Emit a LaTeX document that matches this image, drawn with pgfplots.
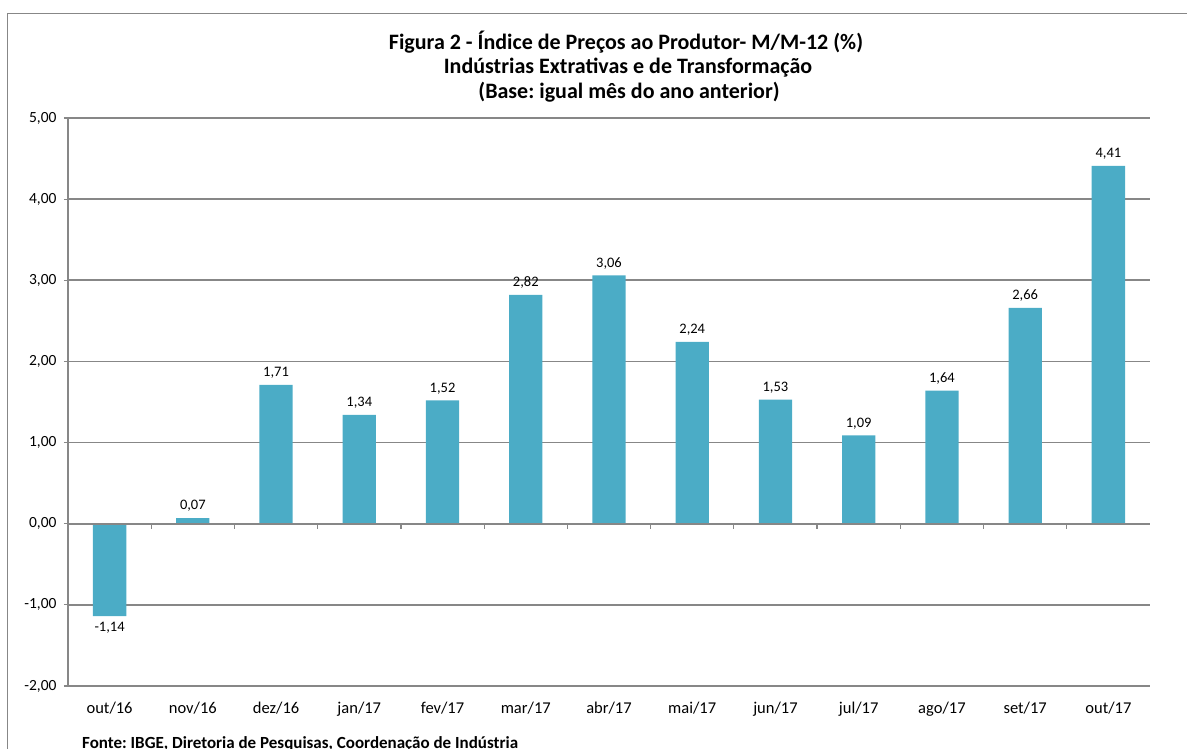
\documentclass[border=0pt]{standalone}
\usepackage{pgfplots}
\pgfplotsset{compat=1.18}
\usepackage{fontspec}
\setmainfont{Carlito}
\frenchspacing
\definecolor{barc}{HTML}{4BACC6}
\definecolor{gridc}{HTML}{878787}
\begin{document}
\begin{tikzpicture}[x=1pt,y=1pt]
\useasboundingbox (0,0) rectangle (1187,749);
\draw[gridc, line width=1.2pt] (7.5,0) -- (7.5,735.5) -- (1187,735.5);
\node[anchor=base, font=\bfseries\fontsize{22}{26}\selectfont] at (626,699) {Figura 2 - Índice de Preços ao Produtor- M/M-12 (\%)};
\node[anchor=base, font=\bfseries\fontsize{22}{26}\selectfont] at (628,675) {Indústrias Extrativas e de Transformação};
\node[anchor=base, font=\bfseries\fontsize{22}{26}\selectfont] at (629,650) {(Base: igual mês do ano anterior)};
\node[anchor=base west, inner sep=0pt, font=\bfseries\fontsize{17}{20}\selectfont] at (82,0.5) {Fonte: IBGE, Diretoria de Pesquisas, Coordenação de Indústria};
\begin{axis}[
  at={(68pt,63pt)}, anchor=south west,
  width=1082pt, height=568pt, scale only axis,
  xmin=-0.5, xmax=12.5, ymin=-2, ymax=5,
  ybar, bar width=0.4,
  axis y line*=left, axis x line*=bottom,
  x axis line style={draw=none},
  y axis line style={-, gridc, line width=1.6pt},
  xtick={0,...,12},
  xticklabels={out/16,nov/16,dez/16,jan/17,fev/17,mar/17,abr/17,mai/17,jun/17,jul/17,ago/17,set/17,out/17},
  x tick style={draw=none},
  xticklabel style={font=\fontsize{16.5}{19}\selectfont, yshift=-9pt},
  ytick={-2,...,5},
  y tick style={gridc, line width=1.2pt},
  tick align=outside, major tick length=4pt,
  yticklabel style={font=\fontsize{15.5}{18}\selectfont, xshift=-4pt},
  ymajorgrids, grid style={gridc, line width=1.8pt},
  /pgf/number format/use comma,
  /pgf/number format/fixed,
  /pgf/number format/fixed zerofill,
  /pgf/number format/precision=2,
  /pgf/number format/assume math mode=true,
  nodes near coords,
  nodes near coords style={font=\fontsize{14.5}{17}\selectfont, inner sep=6pt},
]
\addplot[fill=barc, draw=none] coordinates {
(0,-1.14) (1,0.07) (2,1.71) (3,1.34) (4,1.52) (5,2.82) (6,3.06)
(7,2.24) (8,1.53) (9,1.09) (10,1.64) (11,2.66) (12,4.41)};
\end{axis}
\begin{axis}[
  at={(68pt,63pt)}, anchor=south west,
  width=1082pt, height=568pt, scale only axis,
  xmin=-0.5, xmax=12.5, ymin=-2, ymax=5,
  axis x line=middle, axis y line=none,
  axis line style={-, gridc, line width=1.8pt},
  xtick={0.5,1.5,...,11.5}, xticklabels={},
  ytick=\empty,
  major tick length=5pt, xtick align=center,
  x tick style={gridc, line width=1.2pt, yshift=-2.5pt},
]
\end{axis}
\end{tikzpicture}
\end{document}
